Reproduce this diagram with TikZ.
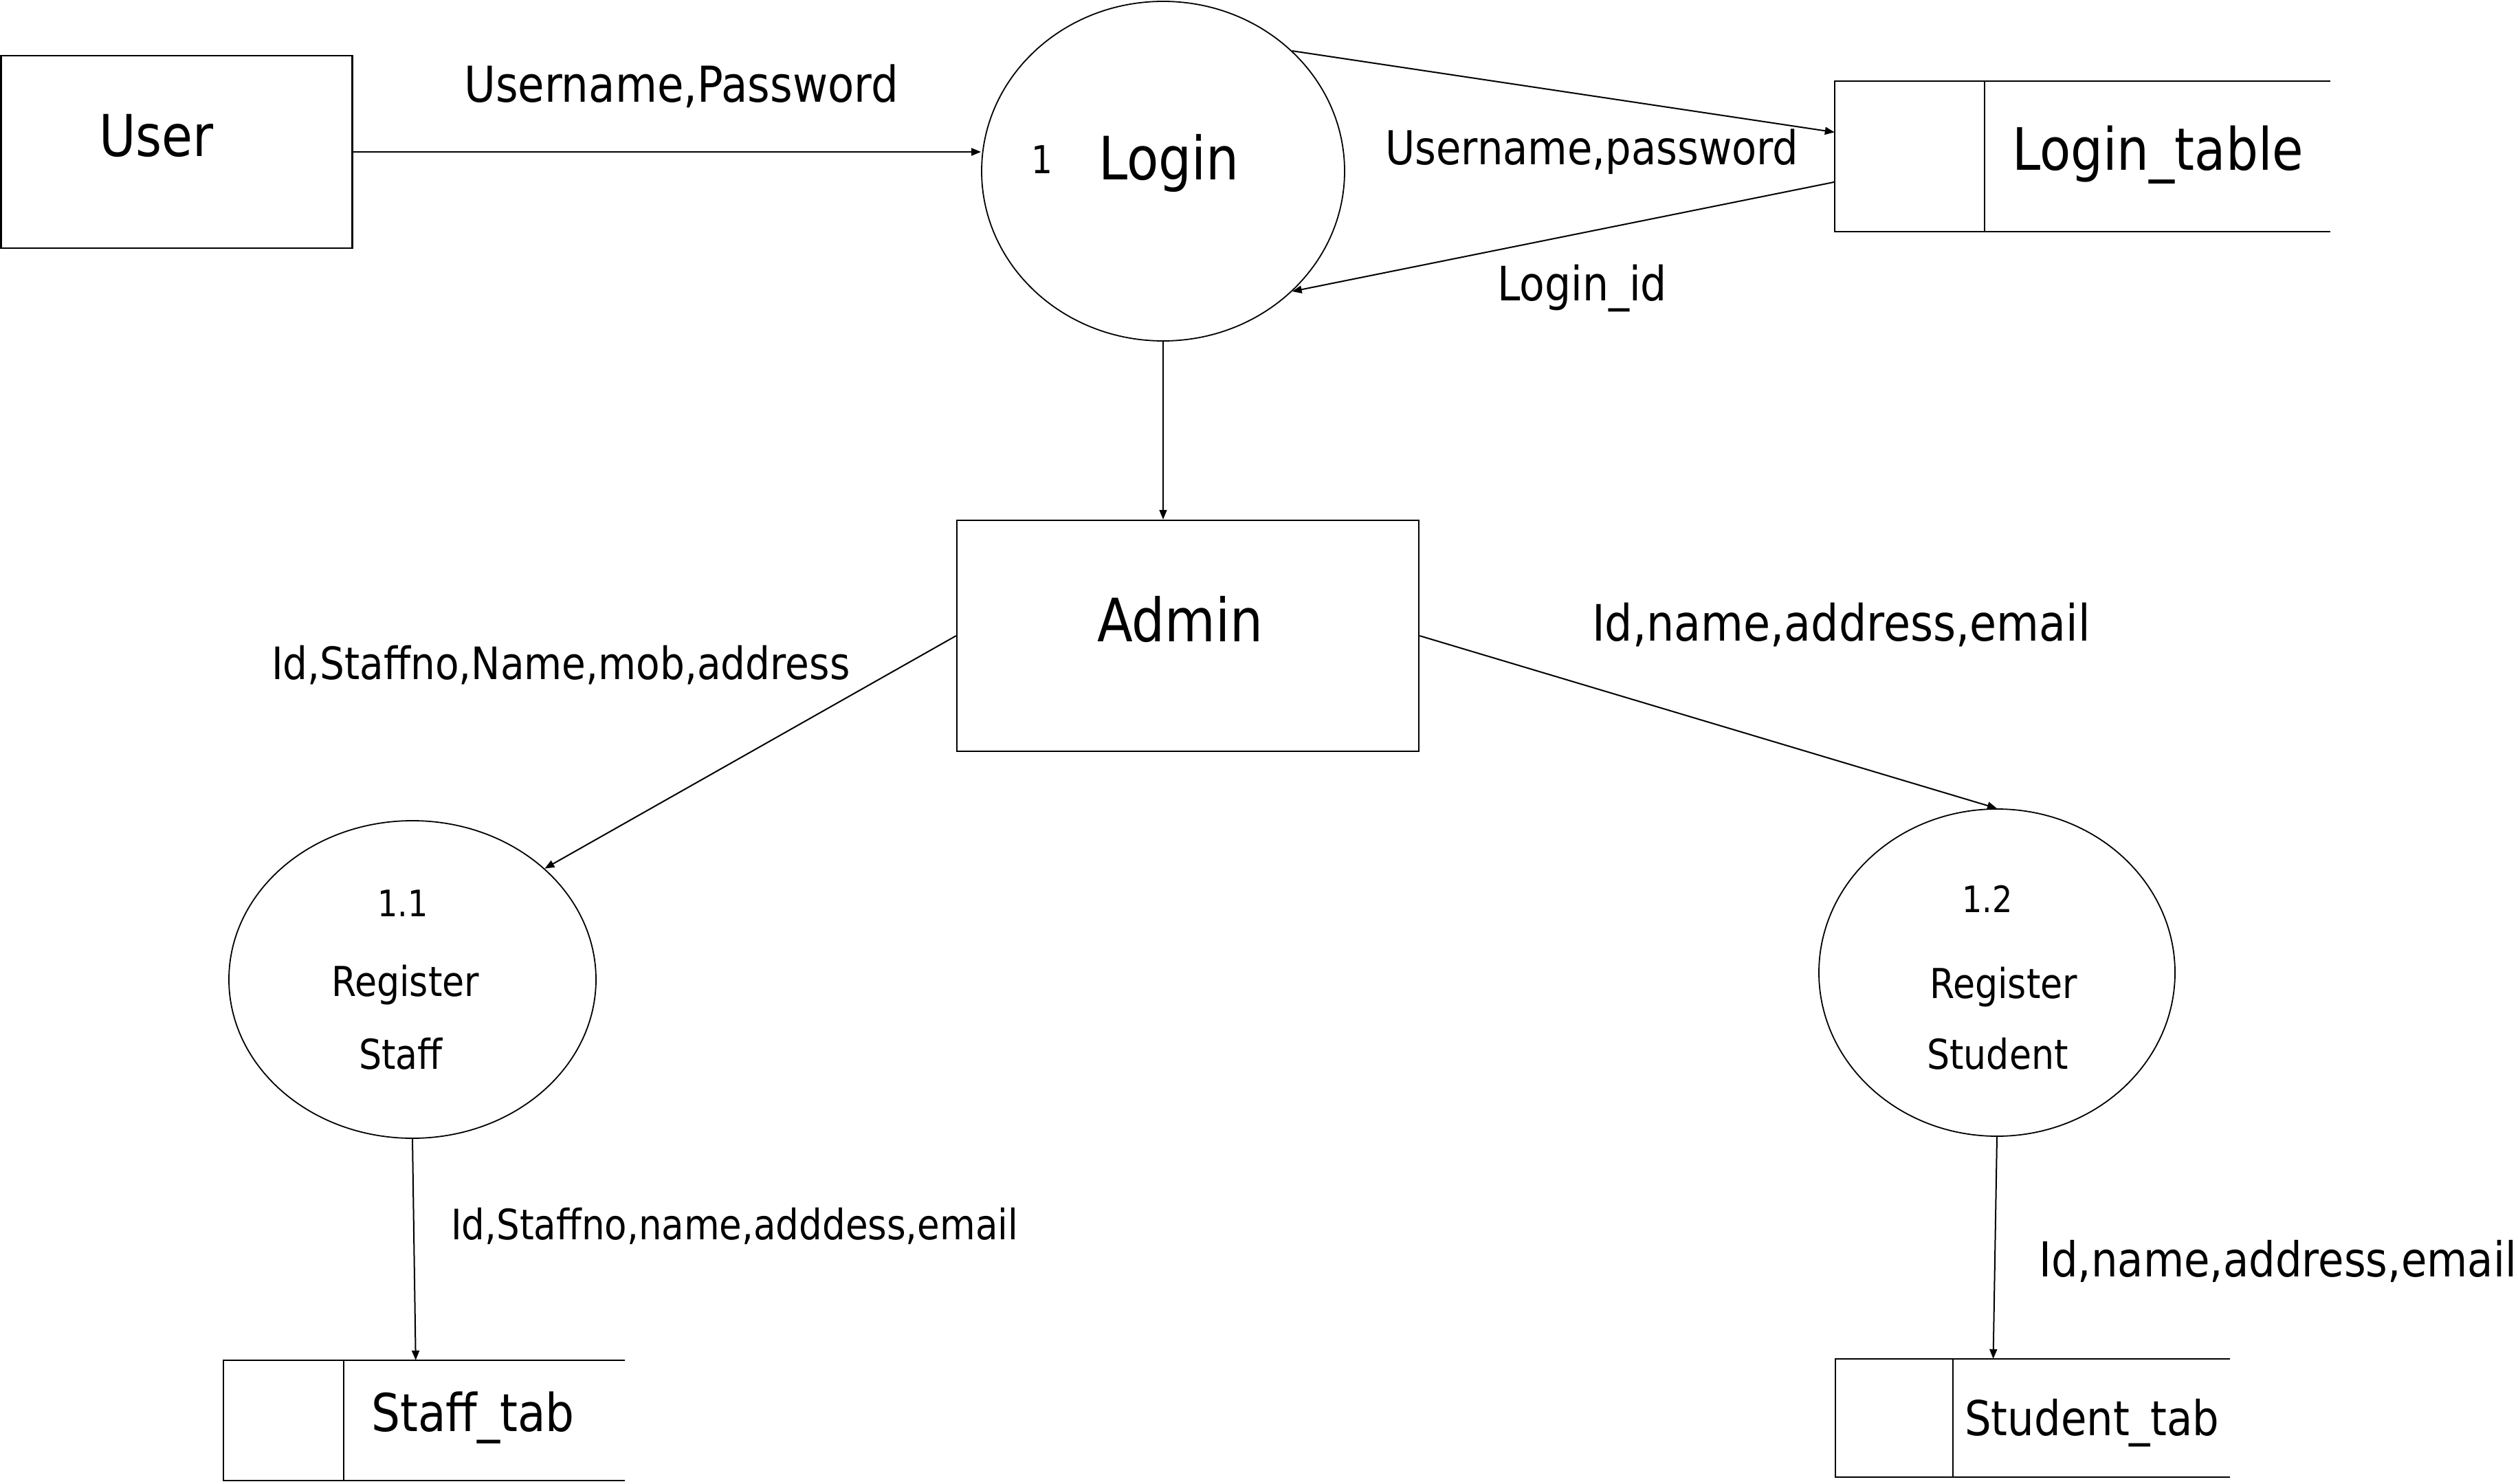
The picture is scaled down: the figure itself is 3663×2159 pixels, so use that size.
\documentclass[tikz,border=0pt]{standalone}
\usepackage{fontspec}
\setmainfont[FakeStretch=0.87]{DejaVu Sans}
\usetikzlibrary{arrows.meta,shapes.geometric,calc}
\newcommand{\fsz}[1]{\fontsize{#1pt}{#1pt}\selectfont}
\begin{document}
\begin{tikzpicture}[x=1pt,y=-1pt,
  boxline/.style={line width=2.5pt},
  thinline/.style={line width=1.8pt},
  flow/.style={line width=2pt,-{Triangle[length=14pt,width=11pt]}},
  proc/.style={ellipse,draw,line width=1.8pt,inner sep=0pt},
  ent/.style={draw,line width=2.5pt,inner sep=0pt},
  store/.style={inner sep=0pt},
  lbl/.style={anchor=base west,inner sep=0pt}]
\useasboundingbox (0,0) rectangle (3663,2159);

% entities and processes
\node[ent,minimum width=511pt,minimum height=280pt] (user) at (257,221) {};
\node[proc,minimum width=528pt,minimum height=494pt] (login) at (1692,249) {};
\node[ent,minimum width=672pt,minimum height=336pt] (admin) at (1728,925) {};
\node[proc,minimum width=534pt,minimum height=462pt] (rstaff) at (600,1425) {};
\node[proc,minimum width=518pt,minimum height=476pt] (rstud) at (2905,1415) {};

% data stores
\node[store,minimum width=721pt,minimum height=219pt] (ltab) at (3029.5,227.5) {};
\node[store,minimum width=584pt,minimum height=175pt] (stab) at (617,2066.5) {};
\node[store,minimum width=574pt,minimum height=172pt] (sttab) at (2957,2063) {};

\draw[boxline] (ltab.north east) -- (ltab.north west) -- (ltab.south west) -- (ltab.south east);
\draw[thinline] (2887,118) -- (2887,337);
\draw[boxline] (stab.north east) -- (stab.north west) -- (stab.south west) -- (stab.south east);
\draw[thinline] (500,1979) -- (500,2154);
\draw[boxline] (sttab.north east) -- (sttab.north west) -- (sttab.south west) -- (sttab.south east);
\draw[thinline] (2841,1977) -- (2841,2149);

% texts in shapes
\node[lbl,font=\fsz{84}] (tuser) at (144,228) {User};
\node[lbl,font=\fsz{56}] (tone) at (1500,253) {1};
\node[lbl,font=\fsz{87}] (tlogin) at (1598,262) {Login};
\node[lbl,font=\fsz{85}] (tltab) at (2927,248) {Login\_table};
\node[lbl,font=\fsz{87}] (tadmin) at (1596,933) {Admin};
\node[lbl,font=\fsz{53}] (t11) at (549,1333) {1.1};
\node[lbl,font=\fsz{60}] (treg1) at (482,1449) {Register};
\node[lbl,font=\fsz{60}] (tstaff) at (522,1555) {Staff};
\node[lbl,font=\fsz{53}] (t12) at (2854,1327) {1.2};
\node[lbl,font=\fsz{60}] (treg2) at (2807,1452) {Register};
\node[lbl,font=\fsz{60}] (tstud) at (2803,1555) {Student};
\node[lbl,font=\fsz{76}] (tstab) at (540,2082) {Staff\_tab};
\node[lbl,font=\fsz{70}] (tsttab) at (2858,2088) {Student\_tab};

% flow labels
\node[lbl,font=\fsz{72}] (f1) at (675,149) {Username,Password};
\node[lbl,font=\fsz{68}] (f2) at (2015,240) {Username,password};
\node[lbl,font=\fsz{69}] (f3) at (2178,437) {Login\_id};
\node[lbl,font=\fsz{65}] (f4) at (395,988) {Id,Staffno,Name,mob,address};
\node[lbl,font=\fsz{73}] (f5) at (2316,932) {Id,name,address,email};
\node[lbl,font=\fsz{61}] (f6) at (656,1803) {Id,Staffno,name,adddess,email};
\node[lbl,font=\fsz{70}] (f7) at (2966,1857) {Id,name,address,email};

% connectors
\draw[flow] (user.east) -- (user.east -| login.west);
\draw[flow] (login.43) -- ($(ltab.north west)!0.34!(ltab.south west)$);
\draw[flow] ($(ltab.north west)!0.67!(ltab.south west)$) -- (login.-43);
\draw[flow] (login.south) -- (login.south |- admin.north);
\draw[flow] (admin.west) -- (rstaff.40);
\draw[flow] (admin.east) -- (rstud.north);
\draw[flow] (rstaff.south) -- ($(stab.north west)!0.479!(stab.north east)$);
\draw[flow] (rstud.south) -- ($(sttab.north west)!0.40!(sttab.north east)$);
\end{tikzpicture}
\end{document}
